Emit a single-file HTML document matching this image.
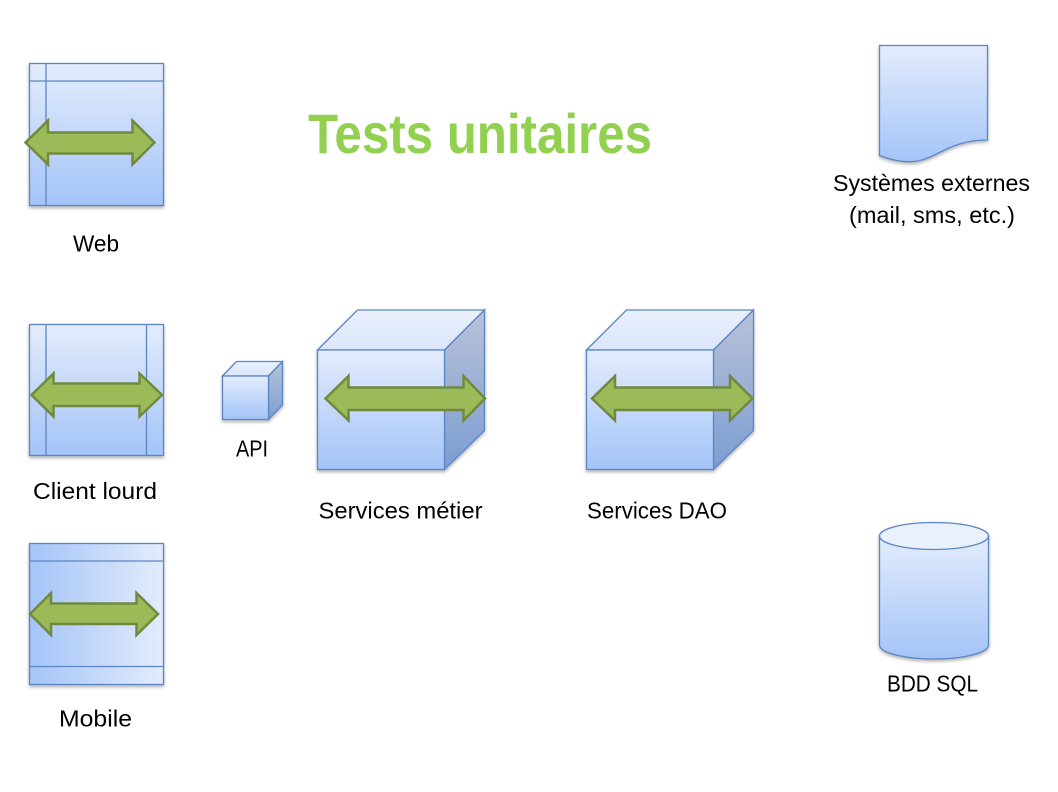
<!DOCTYPE html>
<html><head><meta charset="utf-8"><style>
html,body{margin:0;padding:0;background:#fff;}
svg{display:block;}
text{font-family:"Liberation Sans",Arial,sans-serif;fill:#000;}
</style></head><body>
<svg width="1058" height="792" viewBox="0 0 1058 792" xmlns="http://www.w3.org/2000/svg">
<defs>
<linearGradient id="gv" x1="0" y1="0" x2="0" y2="1"><stop offset="0" stop-color="#e3ecfc"/><stop offset="1" stop-color="#a4c4f8"/></linearGradient>
<linearGradient id="gh" x1="0" y1="0" x2="1" y2="0"><stop offset="0" stop-color="#a4c4f8"/><stop offset="1" stop-color="#e3ecfc"/></linearGradient>
<linearGradient id="gside" x1="0" y1="0" x2="0" y2="1"><stop offset="0" stop-color="#b8c2d8"/><stop offset="1" stop-color="#7c9dd2"/></linearGradient>
<linearGradient id="gtop" x1="0" y1="0" x2="0" y2="1"><stop offset="0" stop-color="#e9f0fc"/><stop offset="1" stop-color="#dbe6fa"/></linearGradient>
<filter id="sh" x="-10%" y="-10%" width="130%" height="130%"><feDropShadow dx="0" dy="2" stdDeviation="1.5" flood-color="#000" flood-opacity="0.3"/></filter>
</defs>

<!-- Title -->
<text x="308" y="153" font-size="56" font-weight="bold" style="fill:#92d050" textLength="344" lengthAdjust="spacingAndGlyphs">Tests unitaires</text>

<g stroke="#5a86c4" stroke-width="1.3">
<!-- Web -->
<rect x="29.5" y="63.5" width="134" height="142" fill="url(#gv)" filter="url(#sh)"/>
<line x1="46" y1="63.5" x2="46" y2="205.5"/>
<line x1="29.5" y1="81" x2="163.5" y2="81"/>
<!-- Client lourd -->
<rect x="29.5" y="324.5" width="134" height="131" fill="url(#gv)" filter="url(#sh)"/>
<line x1="46" y1="324.5" x2="46" y2="455.5"/>
<line x1="146.5" y1="324.5" x2="146.5" y2="455.5"/>
<!-- Mobile -->
<rect x="29.5" y="543.5" width="134" height="141" fill="url(#gh)" filter="url(#sh)"/>
<line x1="29.5" y1="561" x2="163.5" y2="561"/>
<line x1="29.5" y1="666.5" x2="163.5" y2="666.5"/>

<!-- API cube -->
<g filter="url(#sh)">
<polygon points="222.5,376 236.5,361.5 282.5,361.5 268.5,376" fill="url(#gtop)"/>
<polygon points="268.5,376 282.5,361.5 282.5,405 268.5,419.5" fill="url(#gside)"/>
<rect x="222.5" y="376" width="46" height="43.5" fill="url(#gv)"/>
</g>
<!-- Services métier cube -->
<g filter="url(#sh)">
<polygon points="317.5,350 357.5,310 484.5,310 444.5,350" fill="url(#gtop)"/>
<polygon points="444.5,350 484.5,310 484.5,430.5 444.5,469.5" fill="url(#gside)"/>
<rect x="317.5" y="350" width="127" height="119.5" fill="url(#gv)"/>
</g>
<!-- Services DAO cube -->
<g filter="url(#sh)">
<polygon points="586.5,350 626.5,310 753.5,310 713.5,350" fill="url(#gtop)"/>
<polygon points="713.5,350 753.5,310 753.5,430.5 713.5,469.5" fill="url(#gside)"/>
<rect x="586.5" y="350" width="127" height="119.5" fill="url(#gv)"/>
</g>

<!-- Document -->
<path d="M879.5,45.5 L987.5,45.5 L987.5,140 C933.5,140 933.5,176 879.5,155.5 Z" fill="url(#gv)" filter="url(#sh)"/>

<!-- Cylinder -->
<g filter="url(#sh)">
<path d="M879.5,536 L879.5,645 A54.5,14 0 0 0 988.5,645 L988.5,536 Z" fill="url(#gv)"/>
<ellipse cx="934" cy="536" rx="54.5" ry="13.5" fill="#eaf1fd"/>
</g>
</g>

<!-- Arrows -->
<g fill="#9bbb59" stroke="#71893f" stroke-width="2.5" stroke-linejoin="miter">
<path d="M25.5,142.5 L48,120.5 L48,132.5 L132.5,132.5 L132.5,120.5 L154.5,142.5 L132.5,164.5 L132.5,153.5 L48,153.5 L48,164.5 Z"/>
<path d="M31.5,395 L53.5,373.5 L53.5,383.5 L139.5,383.5 L139.5,373.5 L162,395 L139.5,416.5 L139.5,406 L53.5,406 L53.5,416.5 Z"/>
<path d="M30,614 L51,593 L51,603.5 L136.5,603.5 L136.5,593 L158,614 L136.5,635 L136.5,624 L51,624 L51,635 Z"/>
<path d="M325.5,398.5 L348.5,376 L348.5,387.5 L463.5,387.5 L463.5,376 L485,398.5 L463.5,420.5 L463.5,410 L348.5,410 L348.5,420.5 Z"/>
<path d="M592,398.5 L615,376 L615,387.5 L730,387.5 L730,376 L752.5,398.5 L730,420.5 L730,410 L615,410 L615,420.5 Z"/>
</g>

<!-- Labels -->
<g font-size="23.5">
<text x="73" y="251.5" textLength="46" lengthAdjust="spacingAndGlyphs">Web</text>
<text x="33" y="499" textLength="124" lengthAdjust="spacingAndGlyphs">Client lourd</text>
<text x="59" y="726.5" textLength="73" lengthAdjust="spacingAndGlyphs">Mobile</text>
<text x="236" y="456.5" textLength="32" lengthAdjust="spacingAndGlyphs">API</text>
<text x="318.5" y="518.5" textLength="164" lengthAdjust="spacingAndGlyphs">Services métier</text>
<text x="587" y="518.5" textLength="140" lengthAdjust="spacingAndGlyphs">Services DAO</text>
<text x="833" y="191" textLength="197" lengthAdjust="spacingAndGlyphs">Systèmes externes</text>
<text x="849" y="223" textLength="166" lengthAdjust="spacingAndGlyphs">(mail, sms, etc.)</text>
<text x="887" y="691.5" textLength="91" lengthAdjust="spacingAndGlyphs">BDD SQL</text>
</g>
</svg>
</body></html>
